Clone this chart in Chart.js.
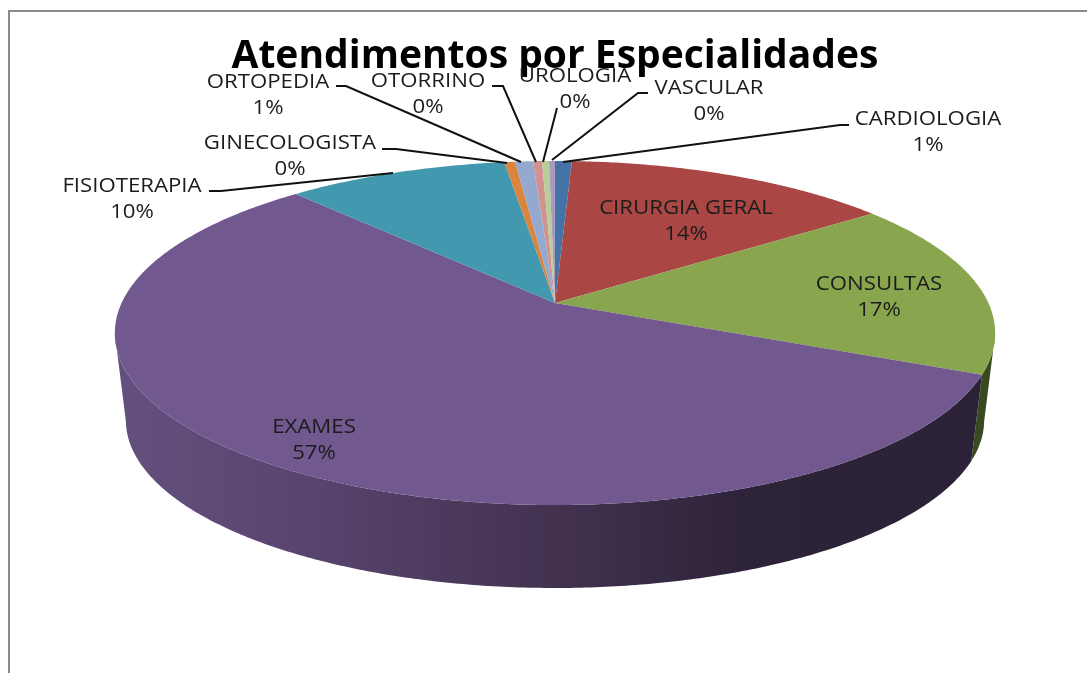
<!DOCTYPE html>
<html>
<head>
<meta charset="utf-8">
<title>Atendimentos por Especialidades</title>
<script src="https://cdn.jsdelivr.net/npm/chart.js@4/dist/chart.umd.min.js"></script>
<style>
  html, body { margin: 0; padding: 0; background: #fff; }
  canvas { display: block; }
</style>
</head>
<body>
<canvas id="pieChart" width="1087" height="673"></canvas>
<script>
// values, in percent
const categories = ['CARDIOLOGIA', 'CIRURGIA GERAL', 'CONSULTAS', 'EXAMES', 'FISIOTERAPIA', 'GINECOLOGISTA', 'ORTOPEDIA', 'OTORRINO', 'UROLOGIA', 'VASCULAR'];
const values = [0.73, 14.2, 16.6, 56.6, 9.6, 0.47, 0.77, 0.39, 0.3, 0.26];
const sliceColors = ['#4572a7', '#aa4643', '#89a54e', '#71588f', '#4198af', '#db843d', '#93a9cf', '#d19392', '#b9cd96', '#a99bbd'];
const wallColors = ['#223a55', '#552322', '#3a4a20', '#71588f', '#204c58', '#6e421e', '#4a5568', '#694a49', '#5d674b', '#554e5f'];

// label text centres and leader lines, same order as categories
const labelPlaces = [
  { x: 928, y: 119, leader: [[849, 125], [840, 125], [563, 162]] },
  { x: 686, y: 208 },
  { x: 879, y: 284 },
  { x: 314, y: 427 },
  { x: 132, y: 186, leader: [[209, 191], [221, 191], [393, 173]] },
  { x: 290, y: 143, leader: [[382, 149], [396, 149], [507, 163]] },
  { x: 268, y: 82, leader: [[336, 86], [346, 86], [521, 162]] },
  { x: 428, y: 81, leader: [[492, 86], [503, 86], [536, 162]] },
  { x: 575, y: 76, leader: [[557, 108], [543, 162]] },
  { x: 709, y: 88, leader: [[648, 93], [638, 93], [552, 160]] }
];

// perspective of the tilted disc, apex at (555, 303)
const apexX = 555, apexY = 303;
const tilt = -0.1744, scaleX = 433.4, scaleY = 166.8;
const depth = 88, bottomScale = 0.975;

function project(angle, lower) {
  const u = Math.cos(angle), v = Math.sin(angle);
  const w = 1 + tilt * v;
  const k = lower ? bottomScale : 1;
  return {
    x: apexX + k * scaleX * u / w,
    y: apexY + k * scaleY * v / w + (lower ? depth : 0)
  };
}

function anglesOf(arc) {
  const list = [];
  const steps = Math.max(2, Math.ceil((arc.endAngle - arc.startAngle) / 0.01));
  for (let i = 0; i <= steps; i++) {
    list.push(arc.startAngle + (arc.endAngle - arc.startAngle) * i / steps);
  }
  return list;
}

// the reference text is stretched sideways
function wideText(ctx, text, x, y) {
  ctx.save();
  ctx.translate(x, y);
  ctx.scale(1.11, 1);
  ctx.fillText(text, 0, 0);
  ctx.restore();
}

const perspectivePie = {
  id: 'perspectivePie',
  beforeDraw(chart) {
    const ctx = chart.ctx;
    ctx.fillStyle = '#fff';
    ctx.fillRect(0, 0, chart.width, chart.height);
    ctx.strokeStyle = '#8a8a8a';
    ctx.lineWidth = 2;
    ctx.beginPath();
    ctx.moveTo(9, 673);
    ctx.lineTo(9, 11);
    ctx.lineTo(1087, 11);
    ctx.stroke();
  },
  beforeDatasetsDraw(chart) {
    const ctx = chart.ctx;
    const arcs = chart.getDatasetMeta(0).data;

    const wallFill = ctx.createLinearGradient(115, 0, 1000, 0);
    wallFill.addColorStop(0, '#64507f');
    wallFill.addColorStop(0.2, '#5a4570');
    wallFill.addColorStop(0.5, '#423250');
    wallFill.addColorStop(0.72, '#2d2339');
    wallFill.addColorStop(1, '#2c2238');

    // side walls first, only the part below the widest point of the disc
    arcs.forEach((arc, i) => {
      const visible = anglesOf(arc).filter(a => Math.sin(a) > -tilt);
      if (visible.length < 2) return;
      ctx.beginPath();
      visible.forEach((a, n) => {
        const p = project(a, false);
        if (n === 0) ctx.moveTo(p.x, p.y); else ctx.lineTo(p.x, p.y);
      });
      visible.slice().reverse().forEach(a => {
        const p = project(a, true);
        ctx.lineTo(p.x, p.y);
      });
      ctx.closePath();
      ctx.fillStyle = categories[i] === 'EXAMES' ? wallFill : wallColors[i];
      ctx.fill();
    });

    // top face
    arcs.forEach((arc, i) => {
      ctx.beginPath();
      ctx.moveTo(apexX, apexY);
      anglesOf(arc).forEach(a => {
        const p = project(a, false);
        ctx.lineTo(p.x, p.y);
      });
      ctx.closePath();
      ctx.fillStyle = sliceColors[i];
      ctx.fill();
    });

    return false;
  },
  afterDraw(chart) {
    const ctx = chart.ctx;
    const total = values.reduce((acc, val) => acc + val, 0);

    ctx.strokeStyle = '#111';
    ctx.lineWidth = 2;
    labelPlaces.forEach(place => {
      if (!place.leader) return;
      ctx.beginPath();
      place.leader.forEach((p, n) => {
        if (n === 0) ctx.moveTo(p[0], p[1]); else ctx.lineTo(p[0], p[1]);
      });
      ctx.stroke();
    });

    ctx.font = '20px "Open Sans"';
    ctx.textAlign = 'center';
    ctx.textBaseline = 'middle';
    ctx.fillStyle = '#1c1c1c';
    labelPlaces.forEach((place, i) => {
      wideText(ctx, categories[i], place.x, place.y);
      wideText(ctx, Math.round(values[i] / total * 100) + '%', place.x, place.y + 26);
    });
  }
};

new Chart(document.getElementById('pieChart'), {
  type: 'pie',
  data: {
    labels: categories,
    datasets: [{ data: values, backgroundColor: sliceColors, borderWidth: 0 }]
  },
  options: {
    responsive: false,
    animation: false,
    layout: { padding: { left: 23 } },
    plugins: {
      legend: { display: false },
      tooltip: { enabled: false },
      title: {
        display: true,
        text: 'Atendimentos por Especialidades',
        color: '#000',
        font: { family: '"Open Sans"', size: 39, weight: 'bold' },
        padding: { top: 33, bottom: 0 }
      }
    }
  },
  plugins: [perspectivePie]
});
</script>
</body>
</html>
